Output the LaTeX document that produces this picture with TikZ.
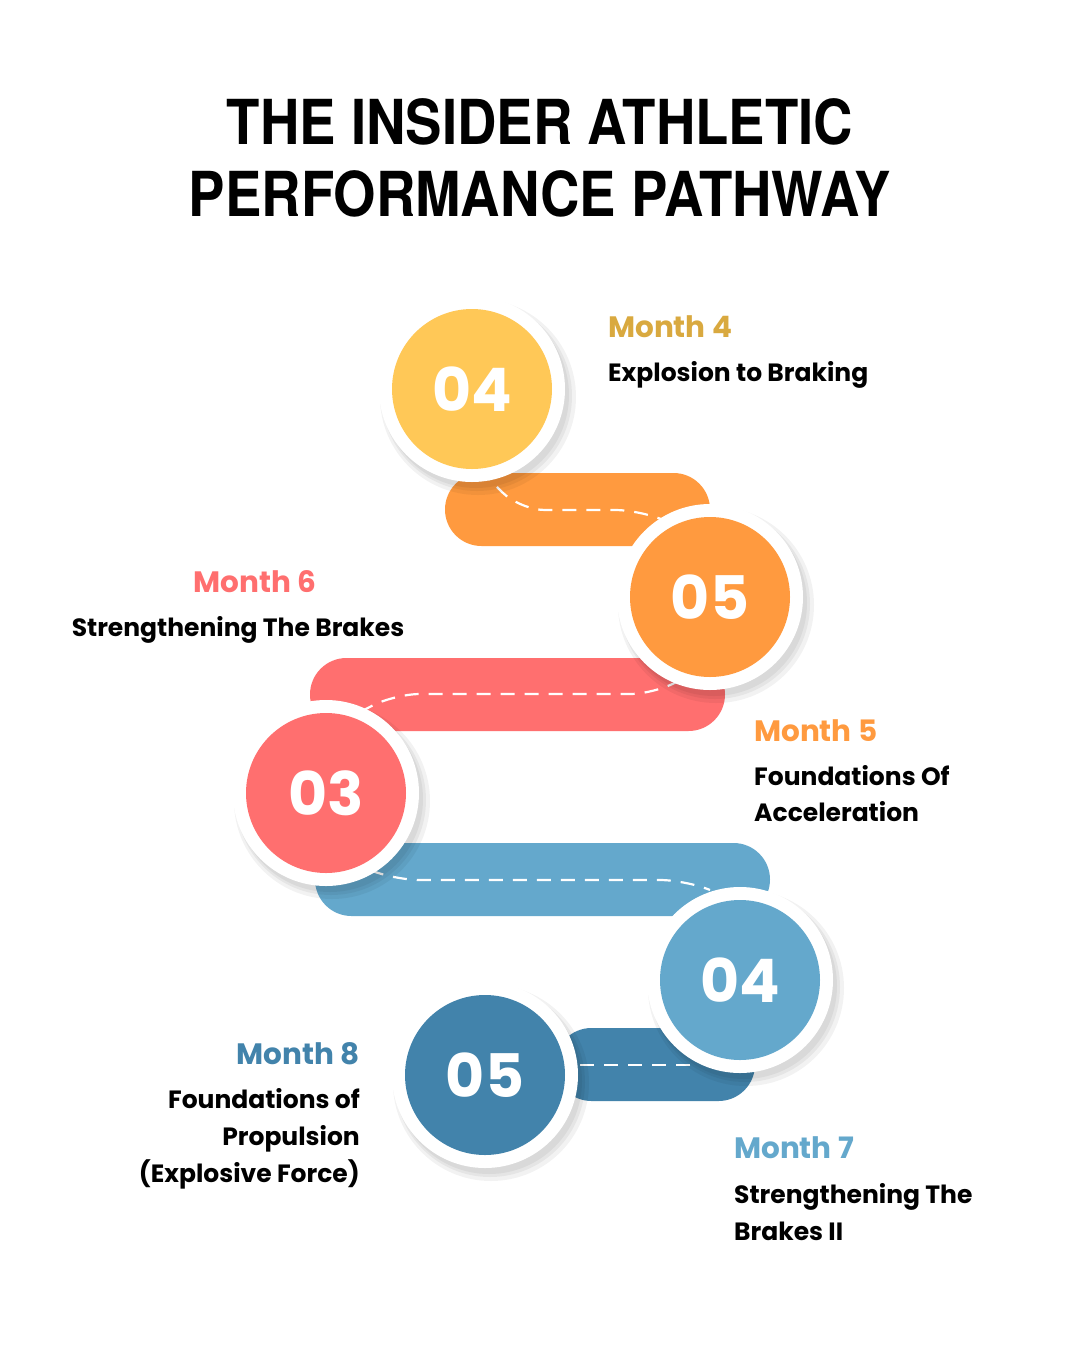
\documentclass[tikz,border=0pt]{standalone}
\usepackage{fontspec}
\setmainfont{Poppins}
\newfontfamily\titlefont{TeX Gyre Heros}
\usetikzlibrary{shadows,calc}
\definecolor{cyel}{HTML}{FFC857}
\definecolor{cora}{HTML}{FF9A3F}
\definecolor{cred}{HTML}{FF6F6F}
\definecolor{clb}{HTML}{64A8CC}
\definecolor{cdb}{HTML}{4283AB}
\definecolor{lgold}{HTML}{D9A93F}
\tikzset{
  x=1pt,y=-1pt,
  ribbon/.style={rounded corners=36.5pt},
  roadline/.style={draw=white,line width=2.2pt,dash pattern=on 14pt off 10pt,rounded corners=25pt},
  ring/.style={circle,fill=white,minimum size=186pt,inner sep=0pt},
  halo/.style={circle,fill=black,inner sep=0pt,opacity=0.05},
  disc/.style={circle,minimum size=160pt,inner sep=0pt,text=white,font=\fontsize{60}{60}\selectfont\bfseries},
  mlab/.style={font=\fontsize{29.5}{30}\selectfont\bfseries,inner sep=0pt},
  dlab/.style={font=\fontsize{25}{26}\selectfont\bfseries,text=black,inner sep=0pt},
}
\newcommand{\stepdisc}[4]{%
  \node[halo,minimum size=196pt] (#1h1) at ($(#2)+(6,8)$) {};
  \node[halo,minimum size=190pt] (#1h2) at ($(#2)+(5,7)$) {};
  \node[halo,minimum size=186pt] (#1h3) at ($(#2)+(4,6)$) {};
  \node[ring] (#1r) at (#2) {};
  \node[disc,fill=#3] (#1) at (#2) {#4};}
\begin{document}
\begin{tikzpicture}
\useasboundingbox (0,0) rectangle (1080,1350);
\fill[white] (0,0) rectangle (1080,1350);
\node[font=\titlefont\fontsize{62}{72}\selectfont\bfseries,align=center,xscale=0.88] (title) at (540,158) {THE INSIDER ATHLETIC\\PERFORMANCE PATHWAY};
% ribbons
\fill[cora,ribbon] (445,473) rectangle (710,546);
\fill[cred,ribbon] (310,658) rectangle (725,731);
\fill[clb,ribbon] (315,843) rectangle (770,916);
\fill[cdb,ribbon] (555,1028) rectangle (755,1101);
% dashed centre lines
\coordinate (d1a) at (480,470); \coordinate (d1b) at (520,510); \coordinate (d1c) at (640,510); \coordinate (d1d) at (675,525);
\draw[roadline] (d1a) -- (d1b) -- (d1c) -- (d1d);
\coordinate (d2a) at (360,712); \coordinate (d2b) at (395,694); \coordinate (d2c) at (655,694); \coordinate (d2d) at (680,680);
\draw[roadline] (d2a) -- (d2b) -- (d2c) -- (d2d);
\coordinate (d3a) at (370,870); \coordinate (d3b) at (395,880); \coordinate (d3c) at (685,880); \coordinate (d3d) at (710,890);
\draw[roadline] (d3a) -- (d3b) -- (d3c) -- (d3d);
\coordinate (d4a) at (580,1065); \coordinate (d4b) at (690,1065);
\draw[roadline] (d4a) -- (d4b);
% circles
\coordinate (p1) at (472,389); \coordinate (p2) at (710,597); \coordinate (p3) at (326,793);
\coordinate (p4) at (740,980); \coordinate (p5) at (485,1075);
\stepdisc{c1}{p1}{cyel}{04}
\stepdisc{c2}{p2}{cora}{05}
\stepdisc{c3}{p3}{cred}{03}
\stepdisc{c4}{p4}{clb}{04}
\stepdisc{c5}{p5}{cdb}{05}
% labels
\node[mlab,text=lgold,anchor=base west] (m4) at (608,337) {Month 4};
\node[dlab,anchor=base west] (t4) at (608,381) {Explosion to Braking};
\node[mlab,text=cred,anchor=base] (m6) at (255,592) {Month 6};
\node[dlab,anchor=base] (t6) at (238,636) {Strengthening The Brakes};
\node[mlab,text=cora,anchor=base west] (m5) at (754,741) {Month 5};
\node[dlab,anchor=base west] (t5a) at (754,785) {Foundations Of};
\node[dlab,anchor=base west] (t5b) at (754,821) {Acceleration};
\node[mlab,text=cdb,anchor=base east] (m8) at (360,1064) {Month 8};
\node[dlab,anchor=base east] (t8a) at (360,1108) {Foundations of};
\node[dlab,anchor=base east] (t8b) at (360,1145) {Propulsion};
\node[dlab,anchor=base east] (t8c) at (360,1182) {(Explosive Force)};
\node[mlab,text=clb,anchor=base west] (m7) at (734,1158) {Month 7};
\node[dlab,anchor=base west] (t7a) at (734,1203) {Strengthening The};
\node[dlab,anchor=base west] (t7b) at (734,1240) {Brakes II};
\end{tikzpicture}
\end{document}
